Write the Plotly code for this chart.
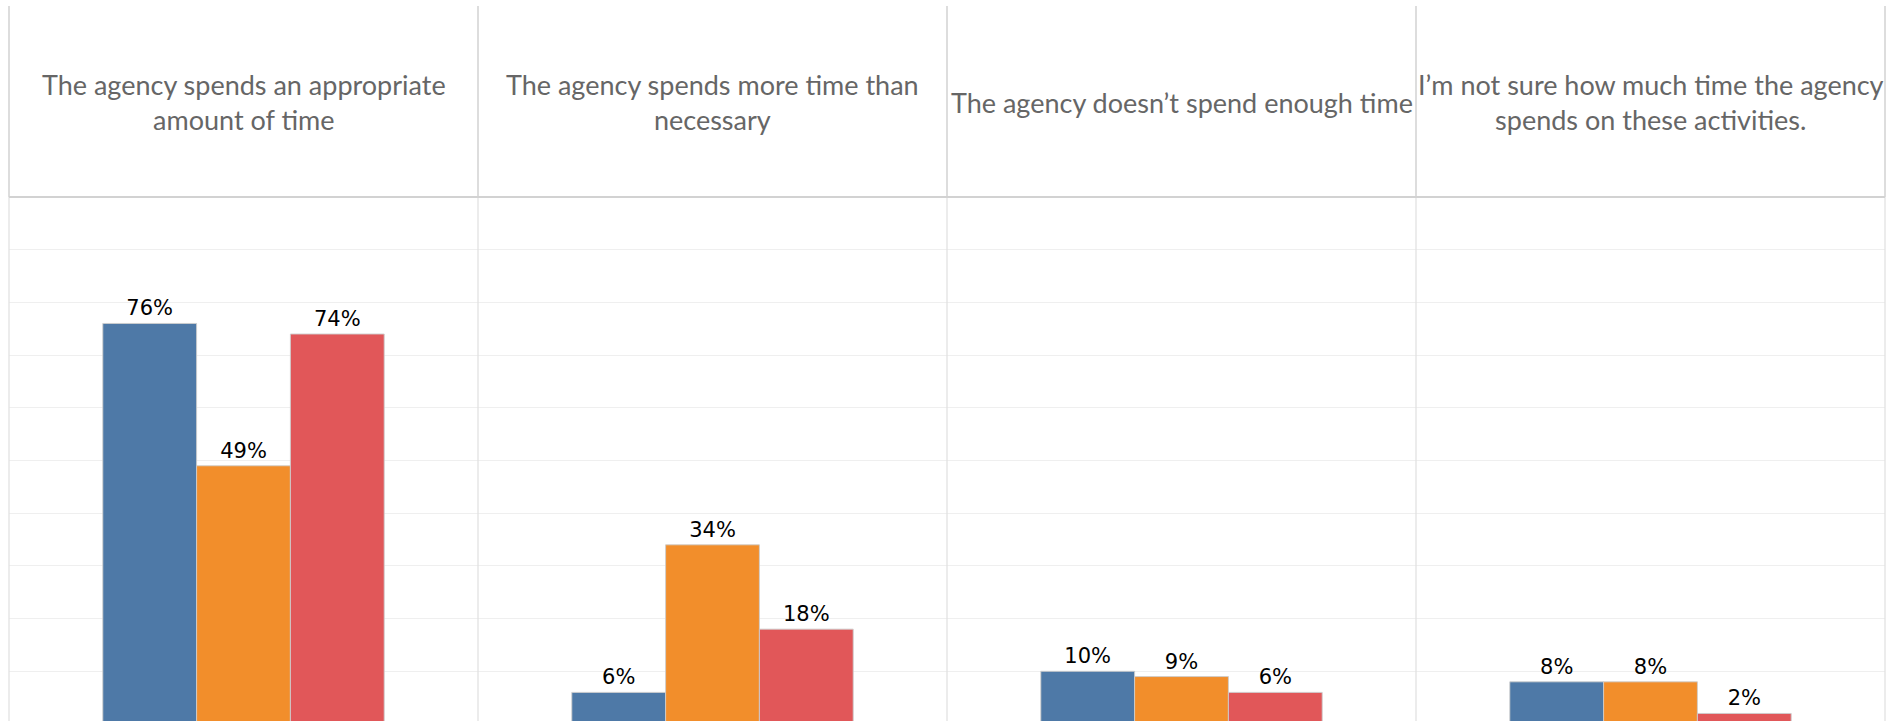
import plotly.graph_objects as go

# Response categories (one panel each) and the three respondent groups
categories = [
    "The agency spends an appropriate<br>amount of time",
    "The agency spends more time than<br>necessary",
    "The agency doesn\u2019t spend enough time",
    "I\u2019m not sure how much time the agency<br>spends on these activities.",
]
series_names = ["Group 1", "Group 2", "Group 3"]
group1_pct = [76, 6, 10, 8]
group2_pct = [49, 34, 9, 8]
group3_pct = [74, 18, 6, 2]
series_values = [group1_pct, group2_pct, group3_pct]
series_colors = ["#4e79a7", "#f28e2b", "#e15759"]

W, H = 1898, 721
M_L, M_R, M_T, M_B = 9, 13, 197, 0
plot_h = H - M_T - M_B

fig = go.Figure()
x_idx = list(range(len(categories)))
for name, vals, color in zip(series_names, series_values, series_colors):
    fig.add_trace(go.Bar(
        x=x_idx,
        y=vals,
        name=name,
        marker=dict(color=color, line=dict(color="rgba(205,205,205,0.9)", width=1)),
        text=[f"{v}%" for v in vals],
        textposition="outside",
        constraintext="none",
        textfont=dict(family="DejaVu Sans", size=21, color="#000000"),
        cliponaxis=False,
        hoverinfo="skip",
    ))

line_col_head = "#d2d2d2"
line_col_body = "#e0e0e0"
top_paper = (H - 6) / plot_h
n = len(categories)
shapes = []
for k in range(n + 1):
    xp = k / n
    # divider inside the header band
    shapes.append(dict(type="line", xref="paper", yref="paper", x0=xp, x1=xp,
                       y0=1, y1=top_paper, line=dict(color=line_col_head, width=1.5)))
    # divider through the bar area
    shapes.append(dict(type="line", xref="paper", yref="paper", x0=xp, x1=xp,
                       y0=-0.01, y1=1, line=dict(color=line_col_body, width=1.2)))
# line under the header band
shapes.append(dict(type="line", xref="paper", yref="paper", x0=0, x1=1,
                   y0=1, y1=1, line=dict(color=line_col_head, width=1.8)))

header_y = (H - 102) / plot_h
annotations = []
for k, cat in enumerate(categories):
    annotations.append(dict(
        x=(k + 0.5) / n, y=header_y, xref="paper", yref="paper",
        text=cat, showarrow=False, xanchor="center", yanchor="middle",
        align="center",
        font=dict(family="Lato", size=27, color="#666666"),
    ))

fig.update_layout(
    width=W, height=H,
    margin=dict(l=M_L, r=M_R, t=M_T, b=M_B, pad=0),
    paper_bgcolor="white", plot_bgcolor="white",
    barmode="group", bargap=0.4, bargroupgap=0,
    showlegend=False,
    shapes=shapes, annotations=annotations,
    xaxis=dict(range=[-0.5, n - 0.5], showgrid=False, zeroline=False,
               showticklabels=False, ticks="", showline=False, fixedrange=True),
    yaxis=dict(range=[0.57, 100], dtick=10, tick0=0, showgrid=True,
               gridcolor="#efefef", gridwidth=1, zeroline=False,
               showticklabels=False, ticks="", showline=False, fixedrange=True),
)

fig.write_html("out.html")
